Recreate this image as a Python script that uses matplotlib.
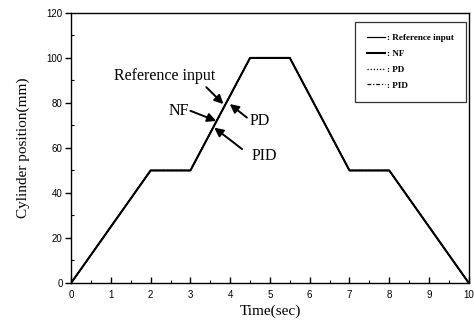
import matplotlib
matplotlib.use("Agg")
import matplotlib.pyplot as plt
from matplotlib.ticker import MultipleLocator

# trapezoidal cylinder position profile (time in s, position in mm)
time_pts = [0, 2, 3, 4.5, 5.5, 7, 8, 10]
ref_pos = [0, 50, 50, 100, 100, 50, 50, 0]
nf_pos = [0, 50, 50, 100, 100, 50, 50, 0]
pd_pos = [0, 50, 50, 100, 100, 50, 50, 0]
pid_pos = [0, 50, 50, 100, 100, 50, 50, 0]

legend_labels = [": Reference input", ": NF", ": PD", ": PID"]

serif = "Liberation Serif"
sans = "Liberation Sans"

fig = plt.figure(figsize=(4.74, 3.31), dpi=100)
ax = fig.add_axes([0.150, 0.145, 0.839, 0.816])

l1, = ax.plot(time_pts, ref_pos, color="black", lw=0.9)
l2, = ax.plot(time_pts, nf_pos, color="black", lw=1.5)
l3, = ax.plot(time_pts, pd_pos, color="black", lw=0.9, ls=(0, (1, 1.5)))
l4, = ax.plot(time_pts, pid_pos, color="black", lw=0.9, ls=(0, (3, 1.5, 1, 1.5)))

ax.set_xlim(0, 10)
ax.set_ylim(0, 120)
ax.xaxis.set_major_locator(MultipleLocator(1))
ax.xaxis.set_minor_locator(MultipleLocator(0.5))
ax.yaxis.set_major_locator(MultipleLocator(20))
ax.yaxis.set_minor_locator(MultipleLocator(10))
ax.tick_params(axis="x", which="major", direction="in", length=4, width=1, pad=5)
ax.tick_params(axis="x", which="minor", direction="in", length=2, width=0.8)
ax.tick_params(axis="y", which="major", direction="out", length=4, width=1, pad=2)
ax.tick_params(axis="y", which="minor", direction="in", length=2, width=0.8)
for lab in ax.get_xticklabels() + ax.get_yticklabels():
    lab.set_fontfamily(sans)
    lab.set_fontsize(7)
for sp in ax.spines.values():
    sp.set_linewidth(1.0)

ax.set_xlabel("Time(sec)", fontfamily=serif, fontsize=11, labelpad=3)
ax.set_ylabel("Cylinder position(mm)", fontfamily=serif, fontsize=11, labelpad=12)

leg = ax.legend([l1, l2, l3, l4], legend_labels, loc="upper right",
                bbox_to_anchor=(0.993, 0.966), frameon=True, fancybox=False,
                edgecolor="black", handlelength=2.0, handletextpad=0.2,
                labelspacing=0.8, borderpad=1.3, borderaxespad=0,
                prop={"family": serif, "weight": "bold", "size": 6.6})
leg.get_frame().set_linewidth(0.9)

# callout labels with arrows pointing at the overlapping curves
txt = dict(fontfamily=serif, fontsize=11.5, ha="center", va="center")
ax.text(2.35, 92, "Reference input", **txt)
ax.text(2.72, 76.5, "NF", **txt)
ax.text(4.75, 72, "PD", **txt)
ax.text(4.85, 56.5, "PID", **txt)

arrow = dict(arrowstyle="-|>", color="black", lw=1.4, mutation_scale=13,
             shrinkA=0, shrinkB=0)
ax.annotate("", xy=(3.83, 79.5), xytext=(3.4, 87), arrowprops=arrow)
ax.annotate("", xy=(3.65, 72), xytext=(3.0, 76.5), arrowprops=arrow)
ax.annotate("", xy=(3.99, 79.5), xytext=(4.42, 73.5), arrowprops=arrow)
ax.annotate("", xy=(3.6, 69), xytext=(4.3, 59.5), arrowprops=arrow)

fig.savefig("out.png", dpi=100)
